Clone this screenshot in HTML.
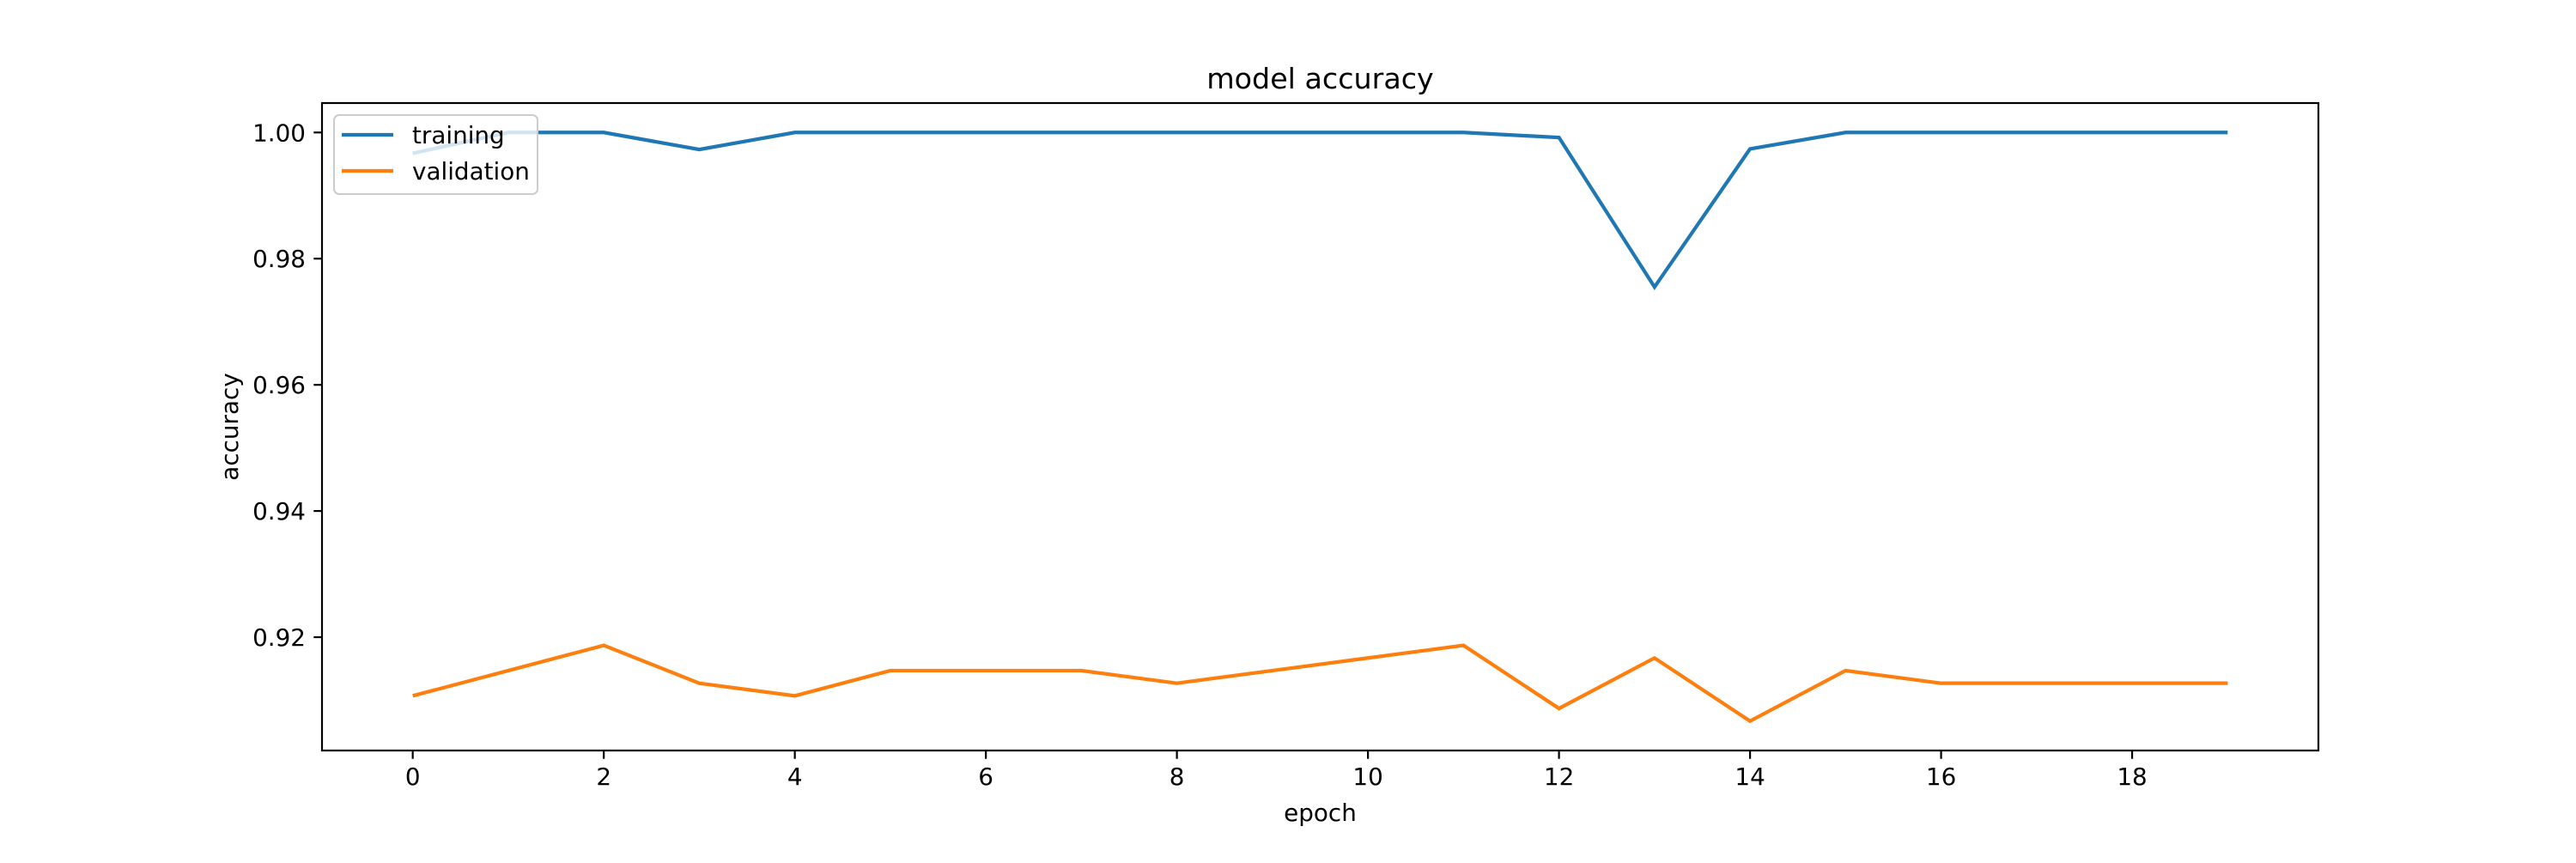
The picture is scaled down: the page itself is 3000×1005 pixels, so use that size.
<!DOCTYPE html>
<html><head><meta charset="utf-8"><style>
html,body{margin:0;padding:0;background:#fff;}
svg text{font-family:"DejaVu Sans","Liberation Sans",sans-serif;fill:#000;}
</style></head><body>
<svg id="chart" width="3000" height="1000" xmlns="http://www.w3.org/2000/svg">
<rect width="3000" height="1000" fill="#fff"/>
<g id="plot"></g>
</svg>
<script>
const epochs = [0,1,2,3,4,5,6,7,8,9,10,11,12,13,14,15,16,17,18,19];
const training = [0.9967,1,1,0.9973,1,1,1,1,1,1,1,1,0.9992,0.9755,0.9974,1,1,1,1,1];
const validation = [0.9107,0.9147,0.9187,0.9127,0.9107,0.9147,0.9147,0.9147,0.9127,0.9147,0.9167,0.9187,0.9087,0.9167,0.9067,0.9147,0.9127,0.9127,0.9127,0.9127];
const xTicks = [0,2,4,6,8,10,12,14,16,18];
const yTicks = [0.92,0.94,0.96,0.98,1.00];
const yTickLabels = ["0.92","0.94","0.96","0.98","1.00"];

const L=375,R=2700,T=120,B=874;
const xmin=-0.95,xmax=19.95;
const allY=training.concat(validation);
const dmin=Math.min(...allY),dmax=Math.max(...allY),pad=(dmax-dmin)*0.05;
const ymin=dmin-pad,ymax=dmax+pad;
const X=v=>L+(v-xmin)/(xmax-xmin)*(R-L);
const Y=v=>B-(v-ymin)/(ymax-ymin)*(B-T);
const NS="http://www.w3.org/2000/svg";
const g=document.getElementById('plot');
function mk(tag,attrs,parent){const e=document.createElementNS(NS,tag);for(const k in attrs)e.setAttribute(k,attrs[k]);(parent||g).appendChild(e);return e;}

function series(vals,color,name){
  const p=mk('polyline',{points:vals.map((v,i)=>X(epochs[i])+','+Y(v)).join(' '),fill:'none',stroke:color,'stroke-width':4.2,'stroke-linejoin':'miter','stroke-linecap':'butt'});
  
  
}
series(training,'#1f77b4','training-line');
series(validation,'#ff7f0e','validation-line');

const frame=mk('rect',{x:L,y:T,width:R-L,height:B-T,fill:'none',stroke:'#000','stroke-width':2.2});



xTicks.forEach(t=>{
  const tk=mk('line',{x1:X(t),x2:X(t),y1:B,y2:B+9.7,stroke:'#000','stroke-width':2.2});
  
  
  const tx=mk('text',{x:X(t),y:B+40,'text-anchor':'middle','font-size':27.8});
  tx.textContent=t;
  
  
});
yTicks.forEach((t,i)=>{
  const tk=mk('line',{x1:L-9.7,x2:L,y1:Y(t),y2:Y(t),stroke:'#000','stroke-width':2.2});
  
  
  const tx=mk('text',{x:L-19,y:Y(t)+10,'text-anchor':'end','font-size':27.8});
  tx.textContent=yTickLabels[i];
  
  
});

const title=mk('text',{x:(L+R)/2,y:103,'text-anchor':'middle','font-size':33.3});
title.textContent='model accuracy';


const xl=mk('text',{x:(L+R)/2,y:956,'text-anchor':'middle','font-size':27.8});
xl.textContent='epoch';


const yl=mk('text',{x:0,y:0,'text-anchor':'middle','font-size':27.8,transform:'translate(277,'+((T+B)/2)+') rotate(-90)'});
yl.textContent='accuracy';



const lg=mk('g',{});


mk('rect',{x:389,y:134,width:237,height:92,rx:6,fill:'#fff','fill-opacity':0.8,stroke:'#ccc','stroke-width':2},lg);
const entries=[['training','#1f77b4',157],['validation','#ff7f0e',199]];
entries.forEach(e=>{
  const ln=mk('line',{x1:398,x2:458,y1:e[2],y2:e[2],stroke:e[1],'stroke-width':4.2},lg);
  
  
  const tx=mk('text',{x:480,y:e[2]+10,'font-size':27.8},lg);
  tx.textContent=e[0];
  
  
});
</script>
</body></html>
